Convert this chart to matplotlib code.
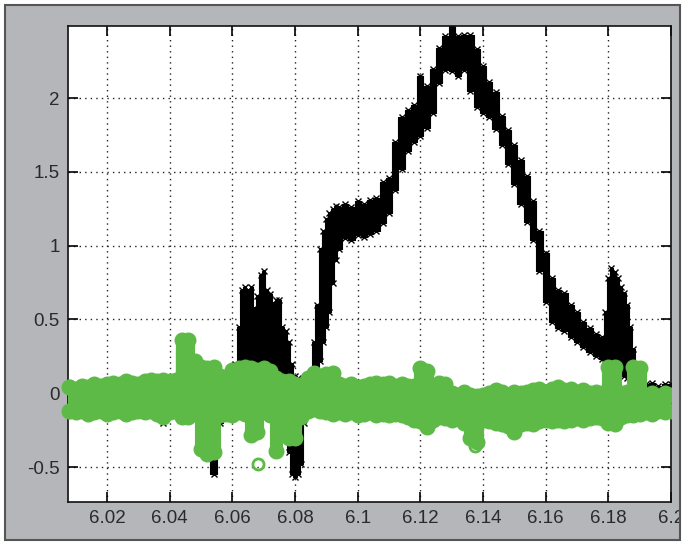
import matplotlib
matplotlib.use("Agg")
import matplotlib.pyplot as plt
from matplotlib.patches import Rectangle

# black series (x markers): band, upper / lower edge
x_black = [6.008, 6.012, 6.016, 6.020, 6.024, 6.028, 6.032, 6.036, 6.038, 6.040,
           6.044, 6.046, 6.048, 6.050, 6.052, 6.054, 6.056, 6.058, 6.060, 6.061,
           6.062, 6.063, 6.064, 6.065, 6.066, 6.067, 6.068, 6.069, 6.070, 6.071,
           6.072, 6.073, 6.074, 6.075, 6.076, 6.077, 6.078, 6.079, 6.080, 6.081,
           6.082, 6.083, 6.084, 6.085, 6.086, 6.087, 6.088, 6.089, 6.090, 6.091,
           6.092, 6.093, 6.094, 6.096, 6.098, 6.100, 6.102, 6.104, 6.106, 6.108,
           6.110, 6.112, 6.114, 6.116, 6.118, 6.120, 6.122, 6.124, 6.126, 6.128,
           6.130, 6.132, 6.134, 6.136, 6.138, 6.140, 6.142, 6.144, 6.146, 6.148,
           6.150, 6.152, 6.154, 6.156, 6.158, 6.160, 6.162, 6.164, 6.166, 6.168,
           6.170, 6.172, 6.174, 6.176, 6.178, 6.179, 6.180, 6.181, 6.182, 6.183,
           6.184, 6.185, 6.186, 6.187, 6.188, 6.189, 6.190, 6.192, 6.194, 6.196,
           6.198, 6.200]
black_hi = [0.05, 0.06, 0.06, 0.07, 0.06, 0.06, 0.07, 0.07, 0.08, 0.09,
            0.30, 0.34, 0.12, 0.10, 0.08, 0.05, 0.06, 0.10, 0.13, 0.20,
            0.45, 0.70, 0.72, 0.70, 0.72, 0.58, 0.66, 0.80, 0.83, 0.70,
            0.67, 0.61, 0.63, 0.63, 0.45, 0.42, 0.35, 0.20, 0.12, 0.10,
            0.08, 0.06, 0.08, 0.10, 0.35, 0.60, 0.98, 1.10, 1.18, 1.22,
            1.25, 1.27, 1.26, 1.28, 1.26, 1.30, 1.28, 1.31, 1.32, 1.43,
            1.46, 1.70, 1.87, 1.92, 1.95, 2.15, 2.08, 2.20, 2.34, 2.42,
            2.49, 2.42, 2.43, 2.43, 2.33, 2.22, 2.11, 2.04, 1.88, 1.78,
            1.68, 1.58, 1.47, 1.30, 1.10, 0.95, 0.78, 0.70, 0.68, 0.60,
            0.55, 0.48, 0.44, 0.40, 0.38, 0.55, 0.78, 0.85, 0.82, 0.78,
            0.72, 0.68, 0.60, 0.45, 0.30, 0.15, 0.10, 0.06, 0.07, 0.05,
            0.06, 0.06]
black_lo = [-0.08, -0.09, -0.10, -0.10, -0.08, -0.09, -0.10, -0.11, -0.20, -0.12,
            -0.05, -0.06, -0.10, -0.18, -0.40, -0.55, -0.20, -0.12, -0.10, -0.05,
            -0.05, -0.02, 0.00, 0.02, 0.02, 0.02, 0.02, 0.05, 0.05, 0.05,
            0.05, 0.05, 0.02, 0.00, -0.05, -0.20, -0.40, -0.55, -0.57, -0.55,
            -0.48, -0.20, -0.05, 0.00, 0.05, 0.10, 0.22, 0.35, 0.45, 0.55,
            0.75, 0.90, 0.98, 1.05, 1.04, 1.07, 1.06, 1.08, 1.10, 1.15,
            1.22, 1.38, 1.52, 1.64, 1.70, 1.74, 1.80, 1.90, 2.10, 2.19,
            2.18, 2.15, 2.19, 2.05, 1.94, 1.90, 1.87, 1.79, 1.68, 1.55,
            1.42, 1.28, 1.16, 1.04, 0.83, 0.62, 0.48, 0.44, 0.42, 0.38,
            0.35, 0.31, 0.28, 0.25, 0.23, 0.20, 0.18, 0.17, 0.16, 0.15,
            0.14, 0.12, 0.10, 0.08, 0.05, 0.03, 0.02, 0.01, 0.01, 0.00,
            0.01, 0.01]

# green series (o markers): band of marker centres, upper / lower edge
x_green = [6.008, 6.010, 6.012, 6.014, 6.016, 6.018, 6.020, 6.022, 6.024, 6.026,
           6.028, 6.030, 6.032, 6.034, 6.036, 6.038, 6.040, 6.042, 6.044, 6.046,
           6.048, 6.050, 6.052, 6.054, 6.056, 6.058, 6.060, 6.062, 6.064, 6.066,
           6.068, 6.070, 6.072, 6.074, 6.076, 6.078, 6.080, 6.082, 6.084, 6.086,
           6.088, 6.090, 6.092, 6.094, 6.096, 6.098, 6.100, 6.102, 6.104, 6.106,
           6.108, 6.110, 6.112, 6.114, 6.116, 6.118, 6.120, 6.122, 6.124, 6.126,
           6.128, 6.130, 6.132, 6.134, 6.136, 6.138, 6.140, 6.142, 6.144, 6.146,
           6.148, 6.150, 6.152, 6.154, 6.156, 6.158, 6.160, 6.162, 6.164, 6.166,
           6.168, 6.170, 6.172, 6.174, 6.176, 6.178, 6.180, 6.182, 6.184, 6.186,
           6.188, 6.190, 6.192, 6.194, 6.196, 6.198, 6.200]
green_hi = [0.04, 0.03, 0.05, 0.04, 0.06, 0.05, 0.06, 0.07, 0.06, 0.08,
            0.07, 0.06, 0.08, 0.09, 0.08, 0.09, 0.08, 0.09, 0.36, 0.36,
            0.22, 0.18, 0.17, 0.18, 0.12, 0.10, 0.16, 0.17, 0.18, 0.17,
            0.16, 0.17, 0.15, 0.10, 0.08, 0.08, 0.06, 0.05, 0.10, 0.14,
            0.10, 0.13, 0.14, 0.06, 0.05, 0.06, 0.04, 0.05, 0.06, 0.07,
            0.06, 0.07, 0.05, 0.06, 0.05, 0.05, 0.17, 0.15, 0.02, 0.07,
            0.06, 0.00, -0.01, 0.01, -0.01, -0.02, -0.01, 0.00, 0.02, 0.01,
            -0.01, 0.01, 0.00, 0.01, 0.02, 0.03, 0.01, 0.03, 0.04, 0.02,
            0.03, 0.01, 0.02, 0.00, 0.01, 0.00, 0.18, 0.18, 0.00, 0.01,
            0.18, 0.17, -0.01, 0.00, -0.02, 0.00, -0.01]
green_lo = [-0.12, -0.13, -0.12, -0.14, -0.13, -0.12, -0.14, -0.13, -0.12, -0.14,
            -0.13, -0.12, -0.13, -0.12, -0.14, -0.16, -0.13, -0.12, -0.16, -0.16,
            -0.10, -0.38, -0.41, -0.40, -0.15, -0.14, -0.15, -0.13, -0.14, -0.28,
            -0.26, -0.12, -0.15, -0.39, -0.18, -0.30, -0.30, -0.16, -0.12, -0.11,
            -0.12, -0.13, -0.14, -0.13, -0.14, -0.13, -0.15, -0.14, -0.13, -0.15,
            -0.14, -0.15, -0.14, -0.15, -0.16, -0.18, -0.19, -0.23, -0.18, -0.16,
            -0.17, -0.18, -0.17, -0.20, -0.30, -0.33, -0.18, -0.19, -0.20, -0.21,
            -0.22, -0.26, -0.21, -0.20, -0.21, -0.19, -0.18, -0.19, -0.18, -0.19,
            -0.18, -0.17, -0.18, -0.17, -0.16, -0.17, -0.20, -0.21, -0.16, -0.15,
            -0.15, -0.14, -0.13, -0.14, -0.12, -0.13, -0.12]

# isolated green circles
green_out_x = [6.0683, 6.1375]
green_out_y = [-0.48, -0.36]

xticks = [6.02, 6.04, 6.06, 6.08, 6.10, 6.12, 6.14, 6.16, 6.18, 6.20]
xlabels = ["6.02", "6.04", "6.06", "6.08", "6.1", "6.12", "6.14", "6.16", "6.18", "6.2"]
yticks = [-0.5, 0, 0.5, 1, 1.5, 2]
ylabels = ["-0.5", "0", "0.5", "1", "1.5", "2"]

green = "#5dba47"
gray = "#b4b6b9"
dot = 10.5  # circle size of the green markers, pt

plt.rcParams['font.family'] = ['Liberation Sans', 'DejaVu Sans']

fig = plt.figure(figsize=(6.84, 5.44), dpi=100)
fig.patch.set_facecolor("white")
# grey window background
fig.patches.append(Rectangle((5 / 684, 4 / 544), 675 / 684, 535 / 544,
                             transform=fig.transFigure, facecolor=gray,
                             edgecolor="none", zorder=-5))

ax = fig.add_axes([68 / 684, 42 / 544, 603 / 684, 476 / 544])
ax.set_facecolor("white")

# black band
ax.fill_between(x_black, black_lo, black_hi, step="mid", color="black", linewidth=0.8, zorder=2)
ax.plot(x_black, black_hi, linestyle="none", marker="x", color="black", markersize=4.5, mew=1, zorder=2)
ax.plot(x_black, black_lo, linestyle="none", marker="x", color="black", markersize=4.5, mew=1, zorder=2)

# green band: columns of overlapping circles
ax.vlines(x_green, green_lo, green_hi, colors=green, linewidth=dot * 0.9, zorder=3)
ax.plot(x_green, green_hi, linestyle="none", marker="o", color=green, markersize=dot, zorder=3)
ax.plot(x_green, green_lo, linestyle="none", marker="o", color=green, markersize=dot, zorder=3)
ax.plot(x_green[:1], green_hi[:1], linestyle="none", marker="o", color=green, markersize=dot,
        zorder=3, clip_on=False)
ax.plot(x_green[:1], green_lo[:1], linestyle="none", marker="o", color=green, markersize=dot,
        zorder=3, clip_on=False)
ax.plot(green_out_x, green_out_y, linestyle="none", marker="o", mfc="none", mec=green,
        markersize=8, mew=2, zorder=3)

ax.set_xlim(6.00755, 6.2)
ax.set_ylim(-0.737, 2.488)
ax.set_xticks(xticks)
ax.set_xticklabels(xlabels)
ax.set_yticks(yticks)
ax.set_yticklabels(ylabels)

ax.grid(True, color="#222222", linestyle=(0, (1, 3)), linewidth=1)
ax.set_axisbelow(True)
ax.tick_params(direction="in", length=7, width=1.2, top=True, right=True,
               labelsize=13.5, labelcolor="#2a2a2a", pad=6)
for s in ax.spines.values():
    s.set_linewidth(1.2)
    s.set_color("#111111")

# outer frame drawn on top, with the margin beyond it
fig.patches.append(Rectangle((680 / 684, 0), 4 / 684, 1, transform=fig.transFigure,
                             facecolor="white", edgecolor="none", zorder=10))
fig.patches.append(Rectangle((5 / 684, 4 / 544), 675 / 684, 535 / 544,
                             transform=fig.transFigure, facecolor="none",
                             edgecolor="#555555", linewidth=1.5, zorder=11))

fig.savefig("out.png", dpi=100, facecolor=fig.get_facecolor())
